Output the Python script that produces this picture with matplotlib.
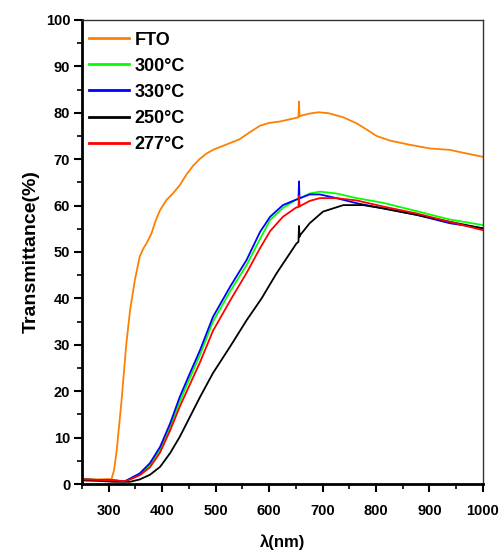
import numpy as np
import matplotlib
matplotlib.use("Agg")
import matplotlib.pyplot as plt
from matplotlib.ticker import MultipleLocator

plt.rcParams['font.family'] = ['Liberation Sans', 'DejaVu Sans']
plt.rcParams['font.weight'] = 'bold'

# FTO substrate
wl_fto = [250, 275, 300, 305, 310, 315, 324, 333, 340, 349, 358, 365, 371, 380, 388, 396, 408,
          420, 433, 445, 458, 470, 483, 495, 508, 530, 545, 564, 583, 600, 620, 651, 655, 656,
          657, 658, 675, 692, 711, 739, 764, 785, 801, 826, 863, 901, 938, 962, 1000]
t_fto = [1.2, 1.0, 1.1, 1.0, 3.0, 7.3, 18.0, 30.3, 37.5, 44.0, 49.0, 50.8, 51.9, 54.0, 56.8,
         59.0, 61.2, 62.6, 64.4, 66.6, 68.6, 70.0, 71.2, 72.0, 72.6, 73.6, 74.3, 75.8, 77.2,
         77.8, 78.1, 78.9, 79.0, 82.4, 79.2, 79.3, 79.8, 80.1, 79.9, 79.0, 77.7, 76.2, 75.0,
         74.0, 73.1, 72.3, 72.0, 71.4, 70.5]

# films: 300, 330, 277 share the same wavelength grid
wl_film = [250, 280, 310, 330, 340, 358, 377, 396, 415, 433, 452, 471, 495, 527, 558, 583,
           602, 626, 651, 655, 656, 657, 658, 676, 695, 726, 764, 813, 876, 938, 1000]
t_300 = [1.0, 0.9, 0.8, 0.6, 1.1, 2.1, 4.1, 7.4, 12.3, 17.8, 22.9, 27.9, 35.0, 41.5, 47.2,
         52.8, 56.9, 59.5, 61.3, 61.4, 61.5, 61.5, 61.6, 62.6, 63.0, 62.6, 61.6, 60.6, 58.8,
         57.0, 55.8]
t_330 = [1.0, 0.9, 0.8, 0.6, 1.2, 2.3, 4.5, 8.0, 13.1, 18.8, 23.9, 28.9, 36.0, 42.5, 48.3,
         54.3, 57.6, 60.1, 61.3, 61.4, 65.2, 61.5, 61.6, 62.4, 62.4, 61.6, 60.5, 59.4, 58.0,
         56.2, 55.1]
t_277 = [1.0, 0.9, 0.8, 0.6, 1.0, 1.9, 3.6, 6.8, 11.6, 16.7, 21.5, 26.3, 33.0, 39.5, 45.5,
         50.8, 54.5, 57.6, 59.6, 59.7, 62.1, 59.8, 59.9, 61.0, 61.6, 61.6, 61.1, 59.8, 58.3,
         56.5, 54.7]

wl_250 = [250, 280, 310, 340, 358, 377, 396, 415, 433, 452, 471, 495, 527, 558, 586, 614,
          651, 655, 656, 657, 658, 676, 701, 739, 776, 813, 876, 938, 1000]
t_250 = [0.8, 0.7, 0.5, 0.5, 1.0, 2.0, 3.7, 6.7, 10.2, 14.5, 18.8, 23.9, 29.6, 35.3, 40.0,
         45.4, 51.8, 52.2, 55.6, 53.3, 53.6, 56.2, 58.7, 60.1, 60.1, 59.4, 58.0, 56.5, 55.1]

fig = plt.figure(figsize=(5.03, 5.52), dpi=100)
ax = fig.add_axes([0.163, 0.123, 0.797, 0.841])

lw = 1.3
ax.plot(wl_fto, t_fto, color='#FF8000', lw=lw, label='FTO')
ax.plot(wl_film, t_300, color='#00FF00', lw=lw, label='300°C')
ax.plot(wl_film, t_330, color='#0000FF', lw=lw, label='330°C')
ax.plot(wl_250, t_250, color='black', lw=lw, label='250°C')
ax.plot(wl_film, t_277, color='#FF0000', lw=lw, label='277°C')

ax.set_xlim(250, 1000)
ax.set_ylim(0, 100)
ax.xaxis.set_major_locator(MultipleLocator(100))
ax.xaxis.set_minor_locator(MultipleLocator(50))
ax.yaxis.set_major_locator(MultipleLocator(10))
ax.yaxis.set_minor_locator(MultipleLocator(5))
ax.tick_params(which='major', direction='out', length=6, width=1.5, labelsize=10.5, pad=2.5)
ax.tick_params(which='minor', direction='out', length=3.5, width=1.2)
ax.set_xticks(range(300, 1001, 100))
ax.tick_params(axis='x', pad=8)

for s in ['left', 'bottom']:
    ax.spines[s].set_linewidth(2)
for s in ['top', 'right']:
    ax.spines[s].set_linewidth(1)
    ax.spines[s].set_color('#333333')

ax.set_xlabel('λ(nm)', fontsize=12, fontweight='bold', labelpad=12)
ax.set_ylabel('Transmittance(%)', fontsize=14, fontweight='bold', labelpad=4)

leg = ax.legend(loc='upper left', frameon=False, fontsize=13, handlelength=2.2,
                handletextpad=0.3, labelspacing=0.5, borderaxespad=0.0,
                bbox_to_anchor=(0.0, 0.99))
for line in leg.get_lines():
    line.set_linewidth(2)

fig.savefig('out.png', dpi=100)
